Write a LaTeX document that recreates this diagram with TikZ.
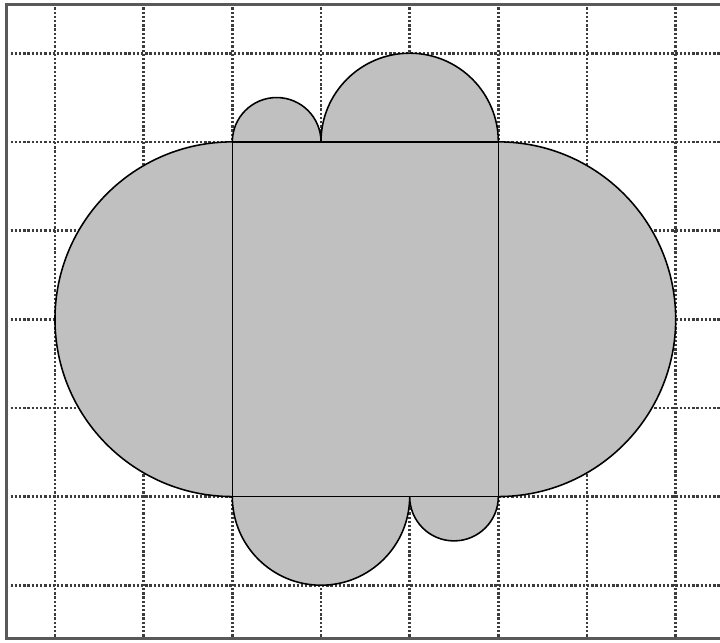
\documentclass[tikz,border=0pt]{standalone}
\definecolor{shapefill}{RGB}{192,192,192}
\definecolor{gridcol}{RGB}{60,60,60}
\tikzset{
  gridline/.style={gridcol, line width=0.85pt, dash pattern=on 0.75pt off 0.6pt},
  outline/.style={draw=black, line width=0.5pt},
  frame/.style={draw=gray!70!black, line width=1pt}
}
\begin{document}
\begin{tikzpicture}
\useasboundingbox (-0.62,-0.645) rectangle (7.5,6.6);
% grid
\foreach \y in {0,...,6}
  \draw[gridline] (-0.5,\y) -- (7.6,\y);
\foreach \x in {0,...,7}
  \draw[gridline] (\x,-0.58) -- (\x,6.53);
% shape
\path[fill=shapefill, outline] (2,5) arc[start angle=180, end angle=0, radius=0.5]
  arc[start angle=180, end angle=0, radius=1]
  arc[start angle=90, end angle=-90, radius=2]
  arc[start angle=0, end angle=-180, radius=0.5]
  arc[start angle=0, end angle=-180, radius=1]
  arc[start angle=270, end angle=90, radius=2] -- cycle;
\draw[outline] (2,1) rectangle (5,5);
% frame
\draw[frame] (-0.55,-0.6) rectangle (7.8,6.55);
\end{tikzpicture}
\end{document}
